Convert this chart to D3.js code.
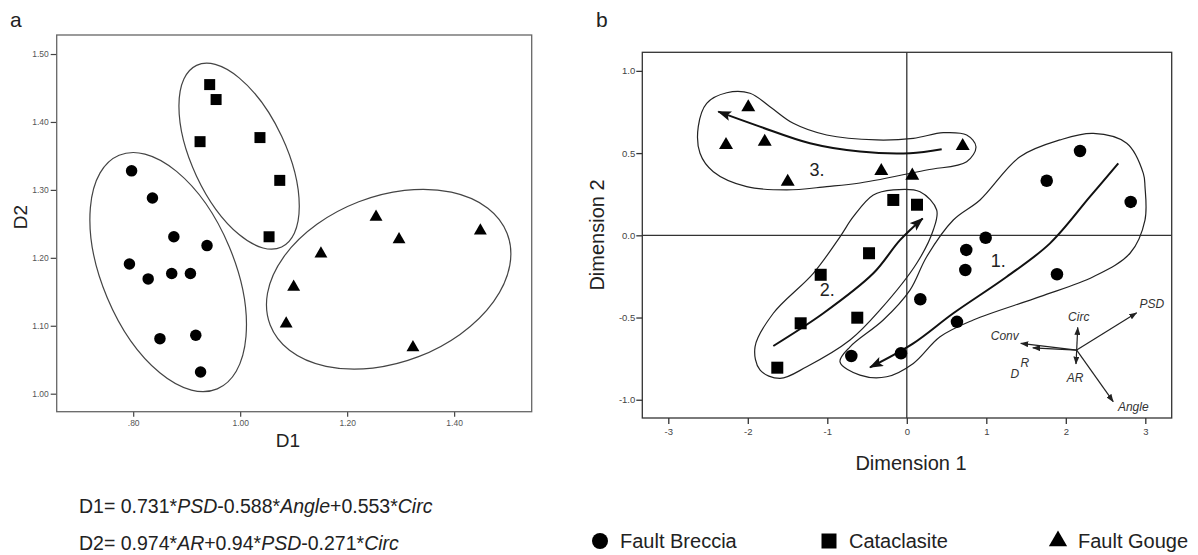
<!DOCTYPE html>
<html>
<head>
<meta charset="utf-8">
<script src="https://cdn.jsdelivr.net/npm/d3@7"></script>
<style>
  body { margin: 0; background: #fff; }
  svg { display: block; font-family: "Liberation Sans", Arial, sans-serif; }
</style>
</head>
<body>
<div id="chart"></div>
<script>
// ---- panel a : discriminant scores (D1, D2)
var aBreccia = [[0.797,1.328],[0.836,1.288],[0.876,1.231],[0.938,1.218],[0.793,1.191],
  [0.828,1.169],[0.872,1.177],[0.907,1.177],[0.917,1.086],[0.850,1.081],[0.926,1.032]];
var aCataclasite = [[0.943,1.455],[0.955,1.433],[0.925,1.371],[1.037,1.377],[1.074,1.314],[1.054,1.231]];
var aGouge = [[1.254,1.260],[1.449,1.240],[1.297,1.227],[1.151,1.206],[1.100,1.157],[1.086,1.103],[1.323,1.068]];
var aTicksX = [0.8, 1.0, 1.2, 1.4];
var aTicksY = [1.0, 1.1, 1.2, 1.3, 1.4, 1.5];

// ---- panel b : dimension scores
var bBreccia = [[2.179,0.513],[1.760,0.332],[2.816,0.203],[0.992,-0.015],[0.748,-0.089],[0.736,-0.211],
  [1.889,-0.237],[0.170,-0.389],[0.631,-0.526],[-0.073,-0.717],[-0.698,-0.734]];
var bCataclasite = [[-0.170,0.215],[0.128,0.186],[-0.475,-0.109],[-1.083,-0.240],[-1.335,-0.535],[-0.623,-0.501],[-1.629,-0.805]];
var bGouge = [[-1.994,0.779],[-2.274,0.549],[-1.787,0.569],[-1.498,0.326],[-0.321,0.391],[0.069,0.363],[0.703,0.543]];
var bTicksX = [-3, -2, -1, 0, 1, 2, 3];
var bTicksY = [-1.0, -0.5, 0.0, 0.5, 1.0];

// variable vectors (origin + loadings, dimension units)
var vecOrigin = [2.137, -0.698];
var vecNames = ["PSD", "Circ", "AR", "Angle", "Conv", "DR"];
var vecDx = [0.755, 0.013, -0.009, 0.460, -0.704, -0.553];
var vecDy = [0.227, 0.138, -0.085, -0.314, 0.041, 0.014];

// hand drawn group outlines and trend arrows (dimension units)
var env1 = [[-0.840,-0.769],[-0.589,-0.850],[-0.253,-0.860],[0.082,-0.779],[0.418,-0.617],[0.836,-0.515],
  [1.675,-0.373],[2.346,-0.252],[2.808,-0.109],[2.996,0.093],[2.996,0.296],[2.975,0.377],[2.766,0.560],
  [2.346,0.620],[1.927,0.580],[1.424,0.478],[0.921,0.215],[0.585,0.093],[0.250,-0.130],[0.040,-0.333],
  [-0.296,-0.515],[-0.714,-0.678]];
var env2 = [[-0.170,0.276],[0.166,0.265],[0.376,0.154],[0.333,0.032],[0.125,-0.170],[-0.337,-0.454],
  [-0.714,-0.637],[-1.259,-0.799],[-1.595,-0.870],[-1.847,-0.819],[-1.909,-0.678],[-1.679,-0.474],
  [-1.176,-0.231],[-0.840,-0.009],[-0.673,0.113],[-0.421,0.245]];
var env3 = [[-2.623,0.661],[-2.517,0.803],[-2.265,0.867],[-1.972,0.864],[-1.721,0.782],[-1.428,0.681],
  [-1.008,0.610],[-0.379,0.580],[0.082,0.590],[0.459,0.624],[0.753,0.610],[0.870,0.539],[0.753,0.448],
  [0.250,0.397],[-0.589,0.318],[-1.008,0.296],[-1.511,0.276],[-2.014,0.296],[-2.434,0.387],[-2.601,0.499]];
var trend1 = [[2.660,0.438],[2.304,0.235],[1.801,-0.049],[1.257,-0.252],[0.585,-0.474],[0.082,-0.657],[-0.463,-0.803]];
var trend2 = [[-1.679,-0.673],[-1.050,-0.474],[-0.421,-0.231],[-0.086,-0.029],[0.200,0.103]];
var trend3 = [[0.439,0.523],[0.040,0.499],[-0.589,0.509],[-1.218,0.560],[-1.847,0.661],[-2.371,0.752]];
var trendLabels = [["1.",1.15,-0.19],["2.",-1.00,-0.37],["3.",-1.13,0.36]];

var legendNames = ["Fault Breccia", "Cataclasite", "Fault Gouge"];
var equations = [
  [["D1= 0.731*",0],["PSD",1],["-0.588*",0],["Angle",1],["+0.553*",0],["Circ",1]],
  [["D2= 0.974*",0],["AR",1],["+0.94*",0],["PSD",1],["-0.271*",0],["Circ",1]]
];

var width = 1198, height = 555;
var svg = d3.select("#chart").append("svg").attr("width", width).attr("height", height);

var defs = svg.append("defs");
defs.append("marker").attr("id", "head").attr("markerUnits", "userSpaceOnUse")
  .attr("viewBox", "0 0 14 10").attr("refX", 13).attr("refY", 5)
  .attr("markerWidth", 14).attr("markerHeight", 10).attr("orient", "auto")
  .append("path").attr("d", "M0,0L14,5L0,10L3,5Z").attr("fill", "#111");
defs.append("marker").attr("id", "headS").attr("markerUnits", "userSpaceOnUse")
  .attr("viewBox", "0 0 8 6").attr("refX", 7.5).attr("refY", 3)
  .attr("markerWidth", 8).attr("markerHeight", 6).attr("orient", "auto")
  .append("path").attr("d", "M0,0L8,3L0,6Z").attr("fill", "#222");

var symTypes = {circle: d3.symbolCircle, square: d3.symbolSquare, triangle: d3.symbolTriangle};
function symArea(kind, s) {
  return {circle: Math.PI * s * s / 4, square: s * s, triangle: s * s * 0.5}[kind];
}
function drawMarks(g, pts, kind, x, y, s) {
  g.selectAll(null).data(pts).enter().append("path")
    .attr("transform", function (d) { return "translate(" + x(d[0]) + "," + y(d[1]) + ")"; })
    .attr("d", d3.symbol().type(symTypes[kind]).size(symArea(kind, s)))
    .attr("fill", "#000");
}

// ================= panel a =================
var xA = d3.scaleLinear().domain([0.657, 1.545]).range([56.7, 531.7]);
var yA = d3.scaleLinear().domain([0.9735, 1.528]).range([411.7, 35]);
var gA = svg.append("g");

var fmtA = function (d) { return d3.format(".2f")(d).replace(/^0/, ""); };
gA.append("g").attr("transform", "translate(0," + yA.range()[0] + ")")
  .call(d3.axisBottom(xA).tickValues(aTicksX).tickFormat(fmtA).tickSize(5).tickSizeOuter(0).tickPadding(3))
  .call(function (g) { g.select(".domain").remove(); });
gA.append("g").attr("transform", "translate(" + xA.range()[0] + ",0)")
  .call(d3.axisLeft(yA).tickValues(aTicksY).tickFormat(d3.format(".2f")).tickSize(6).tickSizeOuter(0).tickPadding(2))
  .call(function (g) { g.select(".domain").remove(); });
gA.selectAll(".tick text").attr("font-size", 8.5).attr("fill", "#555").attr("font-family", "Liberation Sans, Arial");
gA.selectAll(".tick line").attr("stroke", "#444").attr("stroke-width", 1.2);

gA.append("rect").attr("x", xA.range()[0]).attr("y", yA.range()[1])
  .attr("width", xA.range()[1] - xA.range()[0]).attr("height", yA.range()[0] - yA.range()[1])
  .attr("fill", "none").attr("stroke", "#666").attr("stroke-width", 1.3);

// group ellipses: centre in data units, radii in px, angle in degrees
var ellipsesA = [
  {c: [0.8654, 1.179], rx: 126.7, ry: 66.1, rot: 67.2},
  {c: [0.998, 1.3496], rx: 100.3, ry: 47, rot: 64.9},
  {c: [1.2776, 1.1685], rx: 127, ry: 83, rot: -21.1}
];
gA.selectAll(null).data(ellipsesA).enter().append("ellipse")
  .attr("transform", function (d) { return "translate(" + xA(d.c[0]) + "," + yA(d.c[1]) + ") rotate(" + d.rot + ")"; })
  .attr("rx", function (d) { return d.rx; }).attr("ry", function (d) { return d.ry; })
  .attr("fill", "none").attr("stroke", "#444").attr("stroke-width", 1.2);

drawMarks(gA.append("g"), aBreccia, "circle", xA, yA, 11.5);
drawMarks(gA.append("g"), aCataclasite, "square", xA, yA, 11);
drawMarks(gA.append("g"), aGouge, "triangle", xA, yA, 12);

gA.append("text").attr("x", 288).attr("y", 447).attr("text-anchor", "middle")
  .attr("font-size", 19).attr("fill", "#222").text("D1");
gA.append("text").attr("transform", "translate(27,217) rotate(-90)").attr("text-anchor", "middle")
  .attr("font-size", 19).attr("fill", "#222").text("D2");
svg.append("text").attr("x", 10).attr("y", 27).attr("font-size", 21).attr("fill", "#222").text("a");

// ================= panel b =================
var xB = d3.scaleLinear().domain([-3.327, 3.332]).range([642.3, 1171.7]);
var yB = d3.scaleLinear().domain([-1.111, 1.113]).range([418, 52.3]);
var gB = svg.append("g");

var minus = function (s) { return s.replace("\u2212", "-"); };
gB.append("g").attr("transform", "translate(0," + yB.range()[0] + ")")
  .call(d3.axisBottom(xB).tickValues(bTicksX).tickFormat(function (d) { return minus(d3.format("d")(d)); })
    .tickSize(6).tickSizeOuter(0).tickPadding(4))
  .call(function (g) { g.select(".domain").remove(); });
gB.append("g").attr("transform", "translate(" + xB.range()[0] + ",0)")
  .call(d3.axisLeft(yB).tickValues(bTicksY).tickFormat(function (d) { return minus(d3.format(".1f")(d)); })
    .tickSize(6).tickSizeOuter(0).tickPadding(1))
  .call(function (g) { g.select(".domain").remove(); });
gB.selectAll(".tick text").attr("font-size", 9.5).attr("fill", "#444").attr("font-family", "Liberation Sans, Arial");
gB.selectAll(".tick line").attr("stroke", "#333").attr("stroke-width", 1.3);

gB.append("rect").attr("x", xB.range()[0]).attr("y", yB.range()[1])
  .attr("width", xB.range()[1] - xB.range()[0]).attr("height", yB.range()[0] - yB.range()[1])
  .attr("fill", "none").attr("stroke", "#333").attr("stroke-width", 1.3);
gB.append("line").attr("x1", xB.range()[0]).attr("x2", xB.range()[1]).attr("y1", yB(0)).attr("y2", yB(0))
  .attr("stroke", "#333").attr("stroke-width", 1.3);
gB.append("line").attr("x1", xB(0)).attr("x2", xB(0)).attr("y1", yB.range()[0]).attr("y2", yB.range()[1])
  .attr("stroke", "#333").attr("stroke-width", 1.3);

var outline = d3.line().x(function (d) { return xB(d[0]); }).y(function (d) { return yB(d[1]); })
  .curve(d3.curveCatmullRomClosed.alpha(0.5));
var trendLine = d3.line().x(function (d) { return xB(d[0]); }).y(function (d) { return yB(d[1]); })
  .curve(d3.curveCatmullRom.alpha(0.5));
gB.selectAll(null).data([env1, env2, env3]).enter().append("path")
  .attr("d", outline).attr("fill", "none").attr("stroke", "#222").attr("stroke-width", 1.2);
gB.selectAll(null).data([trend1, trend2, trend3]).enter().append("path")
  .attr("d", trendLine).attr("fill", "none").attr("stroke", "#111").attr("stroke-width", 2)
  .attr("marker-end", "url(#head)");
gB.selectAll(null).data(trendLabels).enter().append("text")
  .attr("x", function (d) { return xB(d[1]); }).attr("y", function (d) { return yB(d[2]); })
  .attr("text-anchor", "middle").attr("font-size", 18).attr("fill", "#222").text(function (d) { return d[0]; });

drawMarks(gB.append("g"), bBreccia, "circle", xB, yB, 12.5);
drawMarks(gB.append("g"), bCataclasite, "square", xB, yB, 12);
drawMarks(gB.append("g"), bGouge, "triangle", xB, yB, 13);

// variable vectors
var vecLabelOff = {PSD: [15, -5], Circ: [1, -6], AR: [-1, 18], Angle: [20, 9], Conv: [-16, -3]};
var ox = xB(vecOrigin[0]), oy = yB(vecOrigin[1]);
vecNames.forEach(function (n, i) {
  var tx = xB(vecOrigin[0] + vecDx[i]), ty = yB(vecOrigin[1] + vecDy[i]);
  gB.append("line").attr("x1", ox).attr("y1", oy).attr("x2", tx).attr("y2", ty)
    .attr("stroke", "#222").attr("stroke-width", 1.2).attr("marker-end", "url(#headS)");
  if (n === "DR") {
    gB.append("text").attr("x", tx - 18).attr("y", ty + 30).attr("text-anchor", "middle")
      .attr("font-size", 12).attr("font-style", "italic").attr("fill", "#333").text("D");
    gB.append("text").attr("x", tx - 8).attr("y", ty + 19).attr("text-anchor", "middle")
      .attr("font-size", 12).attr("font-style", "italic").attr("fill", "#333").text("R");
  } else {
    var o = vecLabelOff[n];
    gB.append("text").attr("x", tx + o[0]).attr("y", ty + o[1]).attr("text-anchor", "middle")
      .attr("font-size", 12).attr("font-style", "italic").attr("fill", "#333").text(n);
  }
});

gB.append("text").attr("x", 911).attr("y", 470).attr("text-anchor", "middle")
  .attr("font-size", 20).attr("fill", "#222").text("Dimension 1");
gB.append("text").attr("transform", "translate(604,235) rotate(-90)").attr("text-anchor", "middle")
  .attr("font-size", 20).attr("fill", "#222").text("Dimension 2");
svg.append("text").attr("x", 596).attr("y", 27).attr("font-size", 21).attr("fill", "#222").text("b");

// ================= equations & legend =================
var eq = svg.append("g");
equations.forEach(function (parts, i) {
  var t = eq.append("text").attr("x", 79).attr("y", 513 + i * 37).attr("font-size", 19.5).attr("fill", "#222");
  parts.forEach(function (p) {
    t.append("tspan").attr("font-style", p[1] ? "italic" : "normal").text(p[0]);
  });
});

var legX = [600, 829, 1058];
var legKinds = ["circle", "square", "triangle"];
var legSize = [16, 15, 17];
var leg = svg.append("g");
legendNames.forEach(function (n, i) {
  leg.append("path").attr("transform", "translate(" + legX[i] + ",541)")
    .attr("d", d3.symbol().type(symTypes[legKinds[i]]).size(symArea(legKinds[i], legSize[i]))).attr("fill", "#000");
  leg.append("text").attr("x", legX[i] + 20).attr("y", 548).attr("font-size", 20).attr("fill", "#222").text(n);
});
</script>
</body>
</html>
